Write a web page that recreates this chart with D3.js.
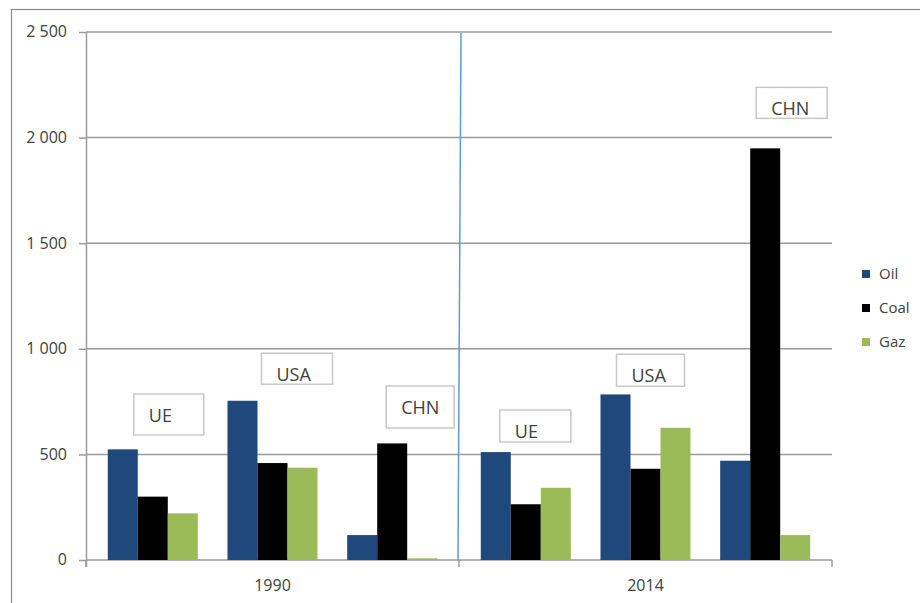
<!DOCTYPE html>
<html>
<head>
<meta charset="utf-8">
<script src="https://cdn.jsdelivr.net/npm/d3@7"></script>
<style>
  body { margin: 0; background: #fff; }
  text { font-family: "Open Sans", sans-serif; fill: #404040; }
</style>
</head>
<body>
<div id="vis"></div>
<script>
// data (Mtoe-ish units, year-major order: UE, USA, CHN)
const years = ["1990", "2014"]
const countries = ["UE", "USA", "CHN"]
const series = ["Oil", "Coal", "Gaz"]
const oil = [524, 754, 118, 511, 784, 470]
const coal = [300, 459, 552, 264, 432, 1949]
const gaz = [221, 437, 8, 342, 626, 118]
const yTicks = [0, 500, 1000, 1500, 2000, 2500]

// country label boxes, top given in value units
const boxes = [
    { year: "1990", country: "UE", dx: 26, w: 70, top: 786, h: 41 },
    { year: "1990", country: "USA", dx: 34, w: 71, top: 979, h: 31 },
    { year: "1990", country: "CHN", dx: 39, w: 68, top: 824, h: 42 },
    { year: "2014", country: "UE", dx: 19, w: 71, top: 710, h: 32 },
    { year: "2014", country: "USA", dx: 16, w: 68, top: 974, h: 32 },
    { year: "2014", country: "CHN", dx: 36, w: 71, top: 2238, h: 31 }
]

const colors = { Oil: "#1f497d", Coal: "#000000", Gaz: "#9bbb59" }

const W = 920, H = 603
const plot = { left: 86, right: 832, top: 32, bottom: 560 }

// rows: one per year/country group
let rows = []
years.forEach((yr, i) => {
    countries.forEach((c, j) => {
        let k = i * countries.length + j
        rows.push({ year: yr, country: c, Oil: oil[k], Coal: coal[k], Gaz: gaz[k] })
    })
})

const xYear = d3.scaleBand().domain(years).range([plot.left, plot.right])
const xCountry = d3.scaleBand().domain(countries)
    .range([0, xYear.bandwidth()])
    .paddingInner(0.248)
    .paddingOuter(0.182)
const xSeries = d3.scaleBand().domain(series).range([0, xCountry.bandwidth()])
const y = d3.scaleLinear().domain([0, 2500]).range([plot.bottom, plot.top])

const fmt = d3.formatLocale({ decimal: ",", thousands: " ", grouping: [3], currency: ["", ""] }).format(",")

let svg = d3.select("#vis").append("svg")
    .attr("width", W)
    .attr("height", H)

// outer frame (runs off right and bottom)
svg.append("rect")
    .attr("x", 11.5).attr("y", 9.5)
    .attr("width", 1000).attr("height", 700)
    .attr("fill", "none")
    .attr("stroke", "#8a8a8a")
    .attr("stroke-width", 1.2)

// gridlines
svg.append("g").selectAll("line")
    .data(yTicks.filter(d => d > 0))
    .join("line")
    .attr("x1", plot.left).attr("x2", plot.right)
    .attr("y1", d => y(d)).attr("y2", d => y(d))
    .attr("stroke", "#9a9a9a")
    .attr("stroke-width", 1.5)

// y axis
let yAxis = svg.append("g")
    .attr("transform", `translate(${plot.left},0)`)
    .call(d3.axisLeft(y).tickValues(yTicks).tickFormat(fmt).tickSize(7).tickPadding(12))
yAxis.select(".domain").attr("stroke", "#9a9a9a").attr("stroke-width", 1.5)
    .attr("d", `M0.5,${plot.top}V${plot.bottom + 7}`)
yAxis.selectAll(".tick line").attr("stroke", "#9a9a9a").attr("stroke-width", 1.5)
yAxis.selectAll(".tick text")
    .style("font-family", "'Open Sans', sans-serif")
    .style("font-size", "16px")
    .attr("fill", "#404040")
    .attr("dy", "0.3em")

// x axis
let xAxis = svg.append("g")
    .attr("transform", `translate(0,${plot.bottom})`)
xAxis.append("line")
    .attr("x1", plot.left).attr("x2", plot.right)
    .attr("stroke", "#9a9a9a").attr("stroke-width", 1.5)
xAxis.selectAll(".sep")
    .data(years.map(d => xYear(d)).concat([plot.right]))
    .join("line")
    .attr("class", "sep")
    .attr("x1", d => d).attr("x2", d => d)
    .attr("y1", 0).attr("y2", 7)
    .attr("stroke", "#9a9a9a").attr("stroke-width", 1.5)
xAxis.selectAll(".yl")
    .data(years)
    .join("text")
    .attr("class", "yl")
    .attr("x", d => xYear(d) + xYear.bandwidth() / 2)
    .attr("y", 31)
    .attr("text-anchor", "middle")
    .style("font-size", "16px")
    .text(d => d)

// bars
let groups = svg.append("g").selectAll("g")
    .data(rows)
    .join("g")
    .attr("transform", d => `translate(${xYear(d.year) + xCountry(d.country)},0)`)

groups.selectAll("rect")
    .data(d => series.map(s => ({ key: s, value: d[s] })))
    .join("rect")
    .attr("x", d => xSeries(d.key))
    .attr("width", xSeries.bandwidth())
    .attr("y", d => y(d.value))
    .attr("height", d => y(0) - y(d.value))
    .attr("fill", d => colors[d.key])

// divider between the two years
let mid = xYear("2014")
svg.append("line")
    .attr("x1", mid + 2).attr("y1", y(2500) + 1)
    .attr("x2", mid - 1).attr("y2", y(0))
    .attr("stroke", "#5b9bd5")
    .attr("stroke-width", 1.5)

// label boxes
let lb = svg.append("g").selectAll("g")
    .data(boxes)
    .join("g")
    .attr("transform", d => `translate(${xYear(d.year) + xCountry(d.country) + d.dx},${y(d.top)})`)
lb.append("rect")
    .attr("width", d => d.w)
    .attr("height", d => d.h)
    .attr("fill", "#fff")
    .attr("stroke", "#c8c8c8")
    .attr("stroke-width", 1.5)
lb.append("text")
    .attr("x", 15)
    .attr("y", 28)
    .style("font-size", "18px")
    .text(d => d.country)

// legend
let legend = svg.append("g")
    .attr("transform", "translate(862,270)")
let li = legend.selectAll("g")
    .data(series)
    .join("g")
    .attr("transform", (d, i) => `translate(0,${i * 34})`)
li.append("rect")
    .attr("width", 8).attr("height", 8)
    .attr("fill", d => colors[d])
li.append("text")
    .attr("x", 17)
    .attr("y", 9)
    .style("font-size", "15px")
    .text(d => d)
</script>
</body>
</html>
